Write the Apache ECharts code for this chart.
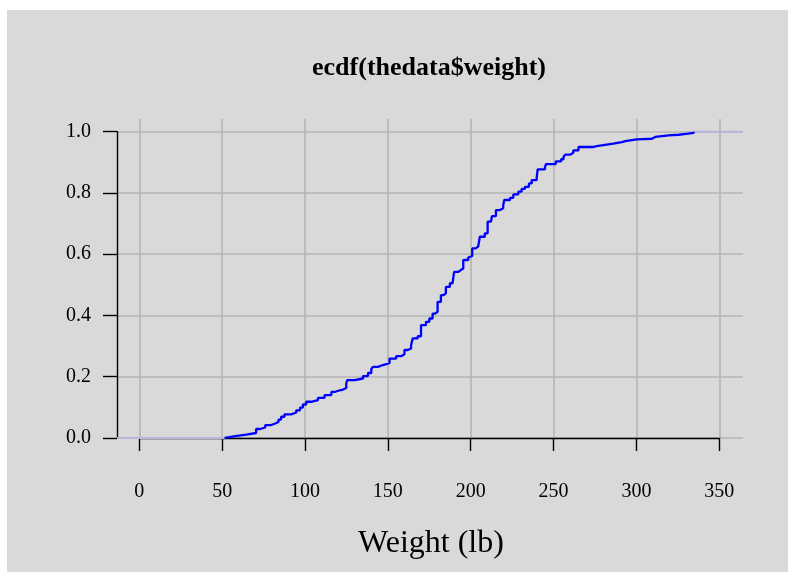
<!DOCTYPE html>
<html>
<head>
<meta charset="utf-8">
<script src="https://cdn.jsdelivr.net/npm/echarts@6/dist/echarts.min.js"></script>
<style>
html,body{margin:0;padding:0;background:#ffffff;}
#chart{width:794px;height:580px;}
</style>
</head>
<body>
<div id="chart"></div>
<script>
// ---- data (step positions of the ECDF) ----
const weights = [51.5, 58, 64.5, 70.5, 73, 76, 79.6, 82, 84, 85.6, 87.6, 91.7, 94.7, 97, 98.7,
  100.7, 103.8, 107.8, 111.8, 115.9, 118, 120, 122.9, 124.9, 125.5, 130, 135, 138, 140, 141,
  144, 147, 149, 151, 155, 158, 160, 162, 164, 165, 168, 170, 173, 175, 177, 178.5, 180, 182,
  183.5, 185, 187.4, 189, 190, 192.4, 194, 195.5, 198.5, 199.5, 200.9, 203, 204.5, 205.5,
  208.5, 210.2, 212.2, 212.8, 215.2, 217.6, 219.6, 220.2, 223.7, 225.7, 228.7, 230.7, 232.7,
  235.1, 236.8, 239.8, 240.4, 244.8, 245.4, 251.3, 254.5, 256, 257, 259.9, 261.9, 265, 274,
  276, 282, 286, 291.2, 293.2, 300.2, 309.3, 311.3, 319.4, 325.4, 330, 334.5];
const ecdfValues = [0.006, 0.011, 0.016, 0.029, 0.034, 0.042, 0.047, 0.052, 0.060, 0.069, 0.077,
  0.083, 0.090, 0.099, 0.109, 0.118, 0.123, 0.131, 0.140, 0.150, 0.154, 0.158, 0.163, 0.178,
  0.189, 0.194, 0.202, 0.212, 0.225, 0.232, 0.238, 0.241, 0.245, 0.259, 0.267, 0.273, 0.287,
  0.292, 0.303, 0.325, 0.332, 0.368, 0.379, 0.390, 0.406, 0.412, 0.444, 0.466, 0.472, 0.493,
  0.505, 0.510, 0.542, 0.548, 0.553, 0.581, 0.589, 0.594, 0.619, 0.625, 0.630, 0.657, 0.668,
  0.706, 0.711, 0.724, 0.744, 0.750, 0.760, 0.777, 0.784, 0.795, 0.804, 0.813, 0.820, 0.831,
  0.842, 0.851, 0.877, 0.884, 0.894, 0.903, 0.910, 0.918, 0.925, 0.931, 0.939, 0.950, 0.953,
  0.958, 0.961, 0.966, 0.969, 0.975, 0.977, 0.983, 0.988, 0.990, 0.993, 0.996, 1.0];
const xTicks = [0, 50, 100, 150, 200, 250, 300, 350];
const yTicks = [0.0, 0.2, 0.4, 0.6, 0.8, 1.0];
const titleText = 'ecdf(thedata$weight)';
const xTitle = 'Weight (lb)';

// ---- chart ----
const FONT = "'Liberation Serif', 'Times New Roman', serif";
const X_RANGE = [-13.46, 364.3];
const chart = echarts.init(document.getElementById('chart'), null, {renderer: 'canvas'});

const mainData = [[weights[0], 0]].concat(weights.map((w, i) => [w, ecdfValues[i]]));
const leftData = [[X_RANGE[0], 0], [weights[0], 0]];
const rightData = [[weights[weights.length - 1], 1], [X_RANGE[1], 1]];

const option = {
  animation: false,
  backgroundColor: '#ffffff',
  graphic: [
    {type: 'rect', z: -10, shape: {x: 7, y: 10, width: 781, height: 562}, style: {fill: '#d9d9d9'}},
    {type: 'text', z: 10, style: {text: titleText, x: 429, y: 68, textAlign: 'center', textVerticalAlign: 'middle',
      font: "bold 26px 'Liberation Serif', 'Times New Roman', serif", fill: '#000'}},
    {type: 'text', z: 10, style: {text: xTitle, x: 431, y: 544, textAlign: 'center', textVerticalAlign: 'middle',
      font: "32px 'Liberation Serif', 'Times New Roman', serif", fill: '#000'}}
  ],
  grid: [
    {left: 117, top: 131.7, width: 626, height: 306.2},   // data
    {left: 139.3, top: 119, width: 580, height: 319},     // vertical grid + x axis
    {left: 117, top: 131.7, width: 626, height: 306.2}    // horizontal grid + y axis
  ],
  xAxis: [
    {gridIndex: 0, type: 'value', min: X_RANGE[0], max: X_RANGE[1], show: false},
    {gridIndex: 1, type: 'value', min: xTicks[0], max: xTicks[xTicks.length - 1], interval: 50,
      offset: 12,
      axisLine: {show: true, lineStyle: {color: '#000', width: 1.4}},
      axisTick: {show: true, length: 13, lineStyle: {color: '#000', width: 1.4}},
      axisLabel: {show: true, margin: 32, color: '#000', fontSize: 20, fontFamily: FONT},
      splitLine: {show: true, lineStyle: {color: '#b4b4b4', width: 1.6}}},
    {gridIndex: 2, type: 'value', min: 0, max: 1, show: false}
  ],
  yAxis: [
    {gridIndex: 0, type: 'value', min: 0, max: 1, show: false},
    {gridIndex: 1, type: 'value', min: 0, max: 1, show: false},
    {gridIndex: 2, type: 'value', min: yTicks[0], max: yTicks[yTicks.length - 1], interval: 0.2,
      axisLine: {show: true, lineStyle: {color: '#000', width: 1.4}},
      axisTick: {show: true, length: 14, lineStyle: {color: '#000', width: 1.4}},
      axisLabel: {show: true, margin: 26, color: '#000', fontSize: 20, fontFamily: FONT,
        formatter: v => v.toFixed(1)},
      splitLine: {show: true, lineStyle: {color: '#b4b4b4', width: 1.6}}}
  ],
  series: [
    {type: 'line', xAxisIndex: 0, yAxisIndex: 0, data: leftData, showSymbol: false, clip: false,
      lineStyle: {color: '#b6b6da', width: 2}, z: 3},
    {type: 'line', xAxisIndex: 0, yAxisIndex: 0, data: rightData, showSymbol: false, clip: false,
      lineStyle: {color: '#b6b6da', width: 2}, z: 3},
    {type: 'line', xAxisIndex: 0, yAxisIndex: 0, data: mainData, step: 'end', showSymbol: false, clip: false,
      lineStyle: {color: '#0000ff', width: 2.3}, z: 4}
  ]
};
chart.setOption(option);
</script>
</body>
</html>
